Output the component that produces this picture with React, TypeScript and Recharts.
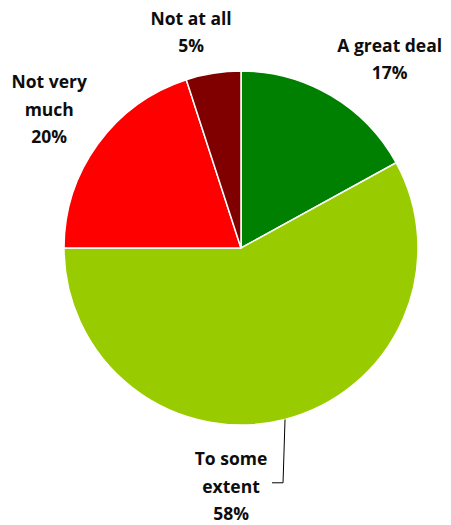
import React from "react";
import { PieChart, Pie, Cell } from "recharts";

const categories = ["A great deal", "To some extent", "Not very much", "Not at all"];
const values = [17, 58, 20, 5];
const labelLines = [["A great deal"], ["To some", "extent"], ["Not very", "much"], ["Not at all"]];
const colors = ["#008000", "#99CC00", "#FF0000", "#800000"];

// label placement: clockwise angle shift (deg) from slice middle, distance from centre
const labelShift = [7.5, 16.8, 0, -4];
const labelRadius = [241, 238, 237, 222];

const data = categories.map((name, i) => ({ name, value: values[i] }));
const RAD = Math.PI / 180;
const LH = 27.3;

const renderLabel = (props: any) => {
  const { cx, cy, midAngle, outerRadius, index, value } = props;
  const ang = midAngle - labelShift[index];
  const r = labelRadius[index];
  const x = cx + r * Math.cos(-ang * RAD);
  const y = cy + r * Math.sin(-ang * RAD);
  const lines = [...labelLines[index], `${value}%`];
  const y0 = y - ((lines.length - 1) * LH) / 2;
  let leader: React.ReactNode = null;
  if (index === 1) {
    const ex = cx + outerRadius * Math.cos(-midAngle * RAD);
    const ey = cy + outerRadius * Math.sin(-midAngle * RAD);
    leader = (
      <polyline
        points={`${ex},${ey} ${x + 52},${y - 3} ${x + 41},${y - 3}`}
        fill="none"
        stroke="#000"
        strokeWidth={1}
      />
    );
  }
  return (
    <g key={`lbl-${index}`}>
      {leader}
      {lines.map((t, i) => (
        <text
          key={i}
          x={x}
          y={y0 + i * LH}
          textAnchor="middle"
          dominantBaseline="central"
          fontFamily="'Open Sans', sans-serif"
          fontWeight={700}
          fontSize={17.5}
          fill="#0d0d0d"
        >
          {t}
        </text>
      ))}
    </g>
  );
};

export default function App() {
  return (
    <div style={{ position: "absolute", left: 0, top: 0, background: "#fff" }}>
      <PieChart width={451} height={525} margin={{ top: 0, right: 0, bottom: 0, left: 0 }}>
        <Pie
          data={data}
          dataKey="value"
          nameKey="name"
          cx={241}
          cy={248}
          outerRadius={177}
          startAngle={90}
          endAngle={-270}
          stroke="#ffffff"
          strokeWidth={1.5}
          label={renderLabel}
          labelLine={false}
          isAnimationActive={false}
        >
          {data.map((d, i) => (
            <Cell key={d.name} fill={colors[i]} />
          ))}
        </Pie>
      </PieChart>
    </div>
  );
}
